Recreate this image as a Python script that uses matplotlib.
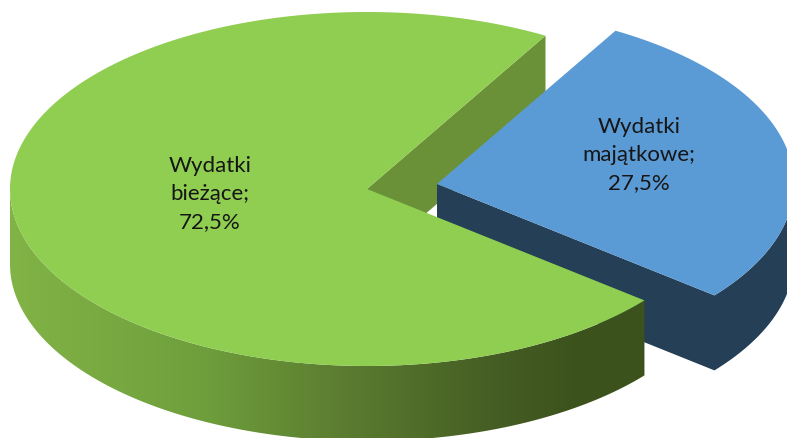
import numpy as np
import matplotlib
matplotlib.use("Agg")
import matplotlib.pyplot as plt
from matplotlib.colors import LinearSegmentedColormap
from matplotlib.patches import Polygon

categories = ["Wydatki\nmajątkowe", "Wydatki\nbieżące"]
values = [27.5, 72.5]

start_angle = 60
rx, ry = 357, 177
depth = 75
green_center = (367, 190)
blue_center = (437, 185)

blue_top = "#5b9bd5"
blue_side = "#243f56"
green_top = "#8fce50"
green_wall = "#6a9138"
side_stops = [(0, "#82b346"), (0.3, "#6f9f3c"), (0.5, "#5d8031"), (0.75, "#465f24"),
              (0.9, "#3c521d"), (1, "#3c521d")]


def arc(center, a0, a1, n=200):
    t = np.radians(np.linspace(a0, a1, n))
    return np.column_stack([center[0] + rx * np.cos(t), center[1] - ry * np.sin(t)])


def drop(points):
    return points + [0, depth]


fig = plt.figure(figsize=(7.87, 4.39), dpi=100)
ax = fig.add_axes([0, 0, 1, 1])
ax.set_xlim(0, 787)
ax.set_ylim(439, 0)
ax.axis("off")

# angles follow the values, clockwise from the start angle
split_angle = start_angle - values[0] / sum(values) * 360

# inner wall of the green slice, seen through the gap
corner = arc(green_center, start_angle, start_angle, 1)
wall = np.vstack([[green_center], corner, drop(corner), drop(np.array([green_center]))])
ax.add_patch(Polygon(wall, fc=green_wall, ec="none", zorder=1))

# blue slice side as one shape, then its top
blue_rim = arc(blue_center, split_angle, 0)
blue_wall = np.vstack([[blue_center], blue_rim, drop(blue_rim)[::-1], drop(np.array([blue_center]))])
ax.add_patch(Polygon(blue_wall, fc=blue_side, ec="none", zorder=2))
blue_arc = arc(blue_center, start_angle, split_angle)
ax.add_patch(Polygon(np.vstack([[blue_center], blue_arc]), fc=blue_top, ec="none", zorder=3))

# green outer side with the dark gradient
green_rim = arc(green_center, 180, 360 + split_angle)
side = Polygon(np.vstack([green_rim, drop(green_rim)[::-1]]), fc="none", ec="none",
               transform=ax.transData)
ax.add_patch(side)
cmap = LinearSegmentedColormap.from_list("side", side_stops)
grad = np.linspace(0, 1, 256).reshape(1, -1)
im = ax.imshow(grad, cmap=cmap, extent=[green_rim[:, 0].min(), green_rim[:, 0].max(), 439, 0],
               aspect="auto", zorder=4)
im.set_clip_path(side)
ax.set_xlim(0, 787)
ax.set_ylim(439, 0)

# green top
green_arc = arc(green_center, start_angle, 360 + split_angle, 400)
ax.add_patch(Polygon(np.vstack([[green_center], green_arc]), fc=green_top, ec="none", zorder=5))

label_pos = [(639, 155), (210, 194)]
for name, value, pos in zip(categories, values, label_pos):
    label = f"{name};\n{value:.1f}%".replace(".", ",")
    ax.text(pos[0], pos[1], label, ha="center", va="center", fontsize=16,
            family="Lato", color="#161616", linespacing=1.5, zorder=6)

fig.savefig("out.png", dpi=100)
